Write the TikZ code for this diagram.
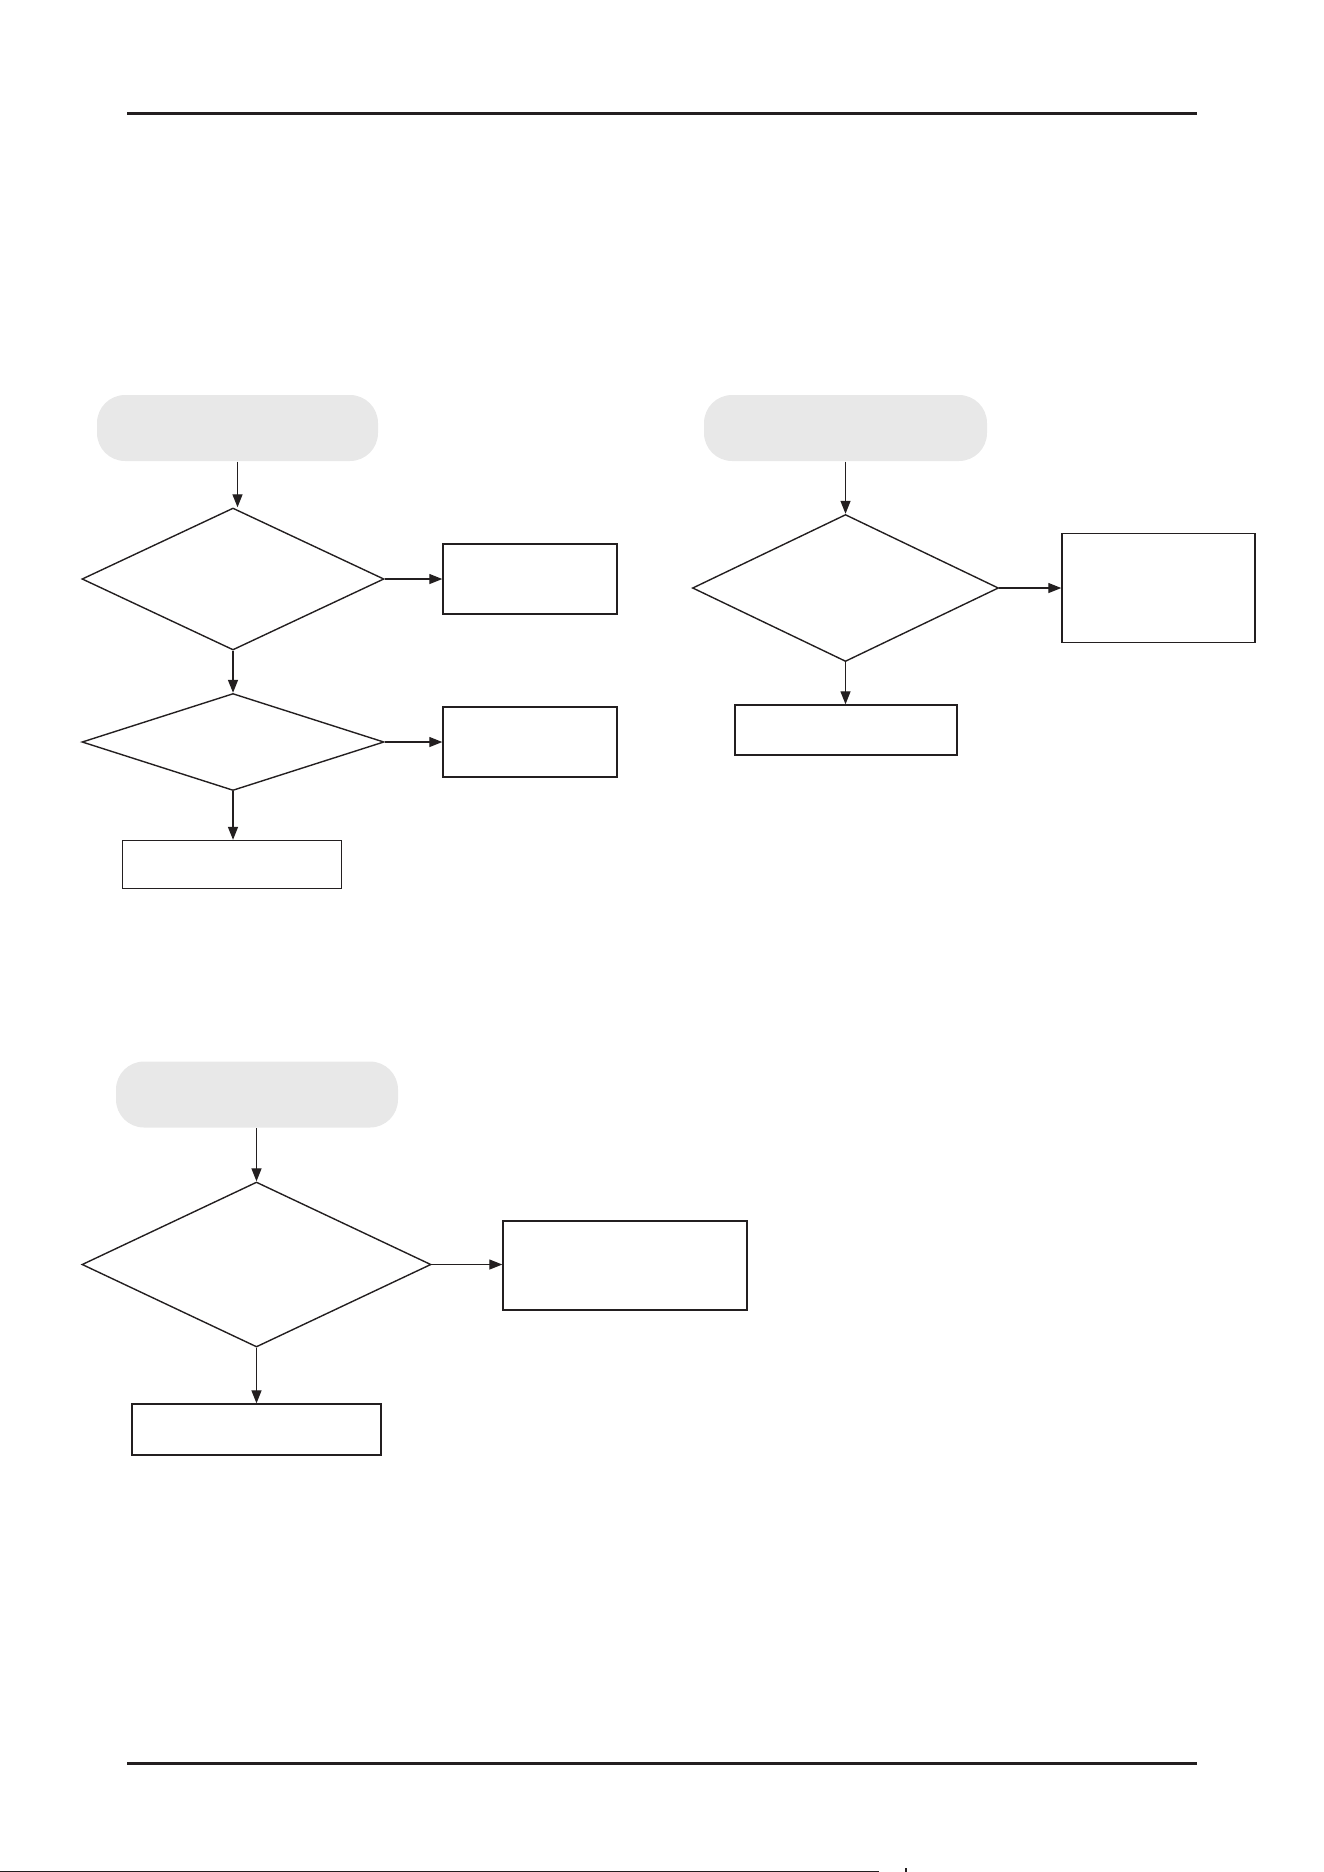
\documentclass[tikz,border=0pt]{standalone}
\usepackage{xcolor}
\usepackage{tikz}
\usetikzlibrary{shapes.geometric, arrows.meta}

\definecolor{inkblack}{RGB}{35,31,32}
\definecolor{termgray}{RGB}{232,232,232}

\begin{document}
\begin{tikzpicture}[x=1pt, y=-1pt,
    line width=1.4pt, draw=inkblack,
    terminal/.style={rectangle, rounded corners=28pt, fill=termgray, inner sep=0pt},
    decision/.style={diamond, draw=inkblack, inner sep=0pt},
    actionbox/.style={rectangle, draw=inkblack, inner sep=0pt},
    flow/.style={-{Triangle[length=13pt, width=10pt]}, draw=inkblack, line width=1.3pt}]
  \useasboundingbox (0,0) rectangle (1324,1872);

  % Page rules
  \draw[line width=3pt, inkblack] (127,113.5) -- (1197,113.5);
  \draw[line width=3pt, inkblack] (127,1763.5) -- (1197,1763.5);
  \draw[line width=1pt, inkblack] (0,1871) -- (879,1871);
  \draw[line width=2pt, inkblack] (906,1868) -- (906,1872);

  % Chart 1 (two decisions)
  \node[terminal, minimum width=281pt, minimum height=66pt] (startA) at (237.5,428) {};
  \node[decision, minimum width=302pt, minimum height=142pt] (checkA) at (233,579) {};
  \node[actionbox, minimum width=174pt, minimum height=70pt] (fixA) at (530,579) {};
  \node[decision, minimum width=302pt, minimum height=97pt] (checkB) at (233,742) {};
  \node[actionbox, minimum width=174pt, minimum height=70pt] (fixB) at (530,742) {};
  \node[actionbox, minimum width=219pt, minimum height=48pt] (endA) at (232,864.5) {};
  \draw[flow] (startA.south) -- (startA.south |- checkA.north);
  \draw[flow] (checkA.east) -- (fixA.west);
  \draw[flow] (checkA.south) -- (checkB.north);
  \draw[flow] (checkB.east) -- (fixB.west);
  \draw[flow] (checkB.south) -- (checkB.south |- endA.north);

  % Chart 2
  \node[terminal, minimum width=283pt, minimum height=66pt] (startB) at (845.5,428) {};
  \node[decision, minimum width=306pt, minimum height=147pt] (checkC) at (845.5,588) {};
  \node[actionbox, minimum width=193pt, minimum height=109pt] (fixC) at (1158.5,588) {};
  \node[actionbox, minimum width=222pt, minimum height=50pt] (endB) at (846,730) {};
  \draw[flow] (startB.south) -- (checkC.north);
  \draw[flow] (checkC.east) -- (fixC.west);
  \draw[flow] (checkC.south) -- (checkC.south |- endB.north);

  % Chart 3
  \node[terminal, minimum width=282pt, minimum height=66pt] (startC) at (257,1094.5) {};
  \node[decision, minimum width=349pt, minimum height=165pt] (checkD) at (256.5,1264.5) {};
  \node[actionbox, minimum width=244pt, minimum height=89pt] (fixD) at (625,1265.5) {};
  \node[actionbox, minimum width=249pt, minimum height=51pt] (endC) at (256.5,1429.5) {};
  \draw[flow] (startC.south -| checkD.north) -- (checkD.north);
  \draw[flow] (checkD.east) -- (checkD.east -| fixD.west);
  \draw[flow] (checkD.south) -- (endC.north);
\end{tikzpicture}
\end{document}
